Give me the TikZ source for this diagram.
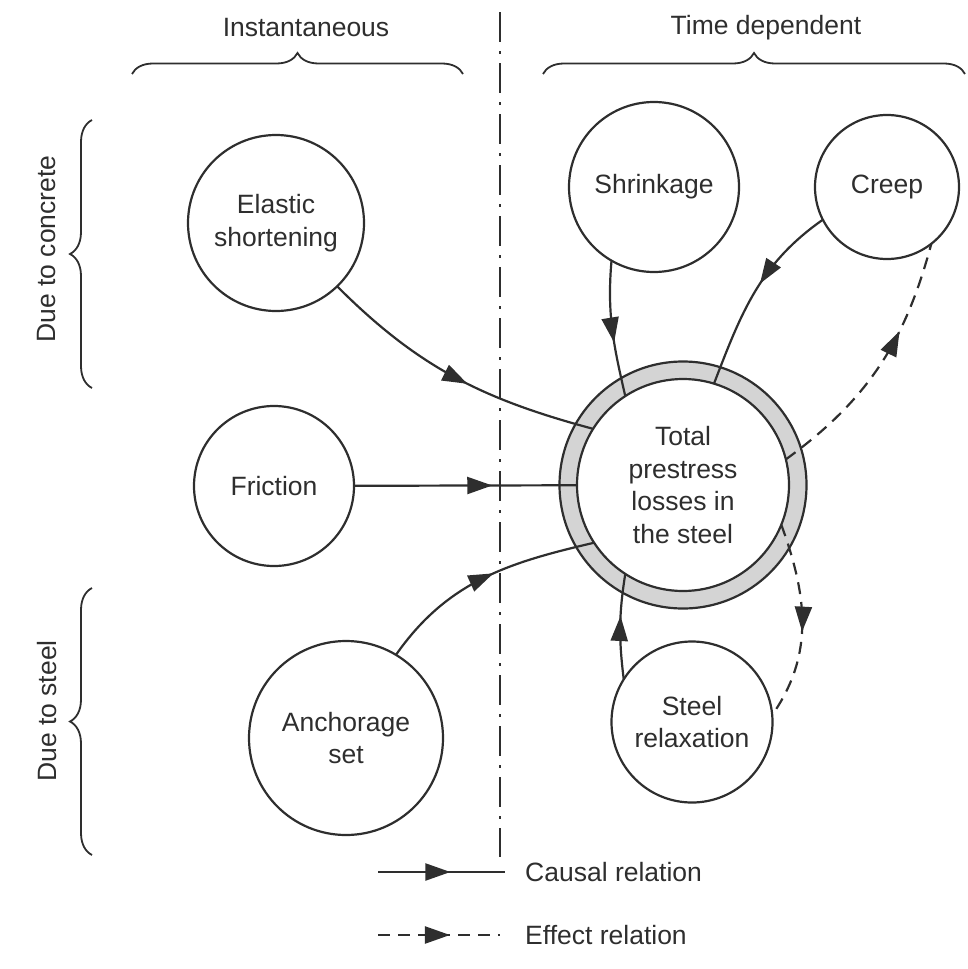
\documentclass[tikz,border=0pt]{standalone}
\usepackage{fontspec}
\setmainfont{Liberation Sans}
\usetikzlibrary{arrows.meta, decorations.markings, decorations.pathreplacing}

\begin{document}
\begin{tikzpicture}
[x=1pt, y=1pt, color=black!82, font=\fontsize{26.5}{32.5}\selectfont, loss node/.style={circle, draw, line width=2.2pt, inner sep=0pt, outer sep=0pt, align=center}, causal line/.style={line width=2.2pt}, effect line/.style={line width=2.2pt, dash pattern=on 12pt off 8pt}, mid arrow/.style={postaction={decorate}, decoration={markings, mark=at position #1 with {\arrow{Triangle[length=25pt, width=17pt]}}}}, brace line/.style={decorate, decoration={brace, amplitude=21pt}, line width=1.8pt}, divide line/.style={line width=1.8pt, dash pattern=on 30pt off 9pt on 3pt off 9pt}, every node/.style={inner sep=0pt}]
    \useasboundingbox (0,0) rectangle (968,-969);
    % headings and braces
    \node (instant) at (306,-28) {Instantaneous};
    \node (timedep) at (766,-28) {Time dependent};
    \node[rotate=90] (concrete) at (47,-249) {Due to concrete};
    \node[rotate=90] (steel) at (47,-711) {Due to steel};
    \draw[brace line] (132,-74) -- (463,-74);
    \draw[brace line] (543,-74) -- (965,-74);
    \draw[brace line, decoration={amplitude=22pt}] (92,-388) -- (92,-120);
    \draw[brace line, decoration={amplitude=22pt}] (92,-855) -- (92,-588);
    \draw[divide line] (500,-12) -- (500,-857);
    % loss circles
    \node[loss node, minimum size=176pt] (elastic) at (276,-223) {Elastic\\shortening};
    \node[loss node, minimum size=160pt] (friction) at (274,-486) {Friction};
    \node[loss node, minimum size=194pt] (anchorage) at (346,-738) {Anchorage\\set};
    \node[loss node, minimum size=170pt] (shrinkage) at (654,-187) {Shrinkage};
    \node[loss node, minimum size=144pt] (creep) at (887,-187) {Creep};
    \node[loss node, minimum size=161pt] (relaxation) at (692,-722) {Steel\\relaxation};
    \draw[line width=2.2pt, fill=black!17] (683,-485) circle[radius=123.5];
    \node[loss node, fill=white, minimum size=212pt] (total) at (683,-485) {Total\\prestress\\losses in\\the steel};
    % relations
    \draw[causal line, mid arrow=0.55] (elastic.-46) to[out=-45, in=165] (total.148);
    \draw[causal line, mid arrow=0.62] (friction) -- (total);
    \draw[causal line, mid arrow=0.55] (anchorage.59) to[out=55, in=193] (total.213);
    \draw[causal line, mid arrow=0.6] (shrinkage.-120) to[out=-95, in=103] (total.123);
    \draw[causal line, mid arrow=0.45] (creep.-153) to[out=-145, in=69] (total.73);
    \draw[causal line, mid arrow=0.6] (relaxation.148) to[out=97, in=-99] (total.-123);
    \draw[effect line, mid arrow=0.65] (total.14) to[out=36, in=-105] (creep.-52);
    \draw[effect line, mid arrow=0.55] (total.-22) to[out=-70, in=55] (relaxation.5);
    % legend
    \coordinate (causal a) at (378,-872);
    \coordinate (causal b) at (505,-872);
    \coordinate (effect a) at (378,-935);
    \coordinate (effect b) at (500,-935);
    \draw[causal line, mid arrow=0.57] (causal a) -- (causal b);
    \draw[effect line, mid arrow=0.59] (effect a) -- (effect b);
    \node[anchor=west] (causal label) at (525,-872) {Causal relation};
    \node[anchor=west] (effect label) at (525,-935) {Effect relation};
\end{tikzpicture}
\end{document}
